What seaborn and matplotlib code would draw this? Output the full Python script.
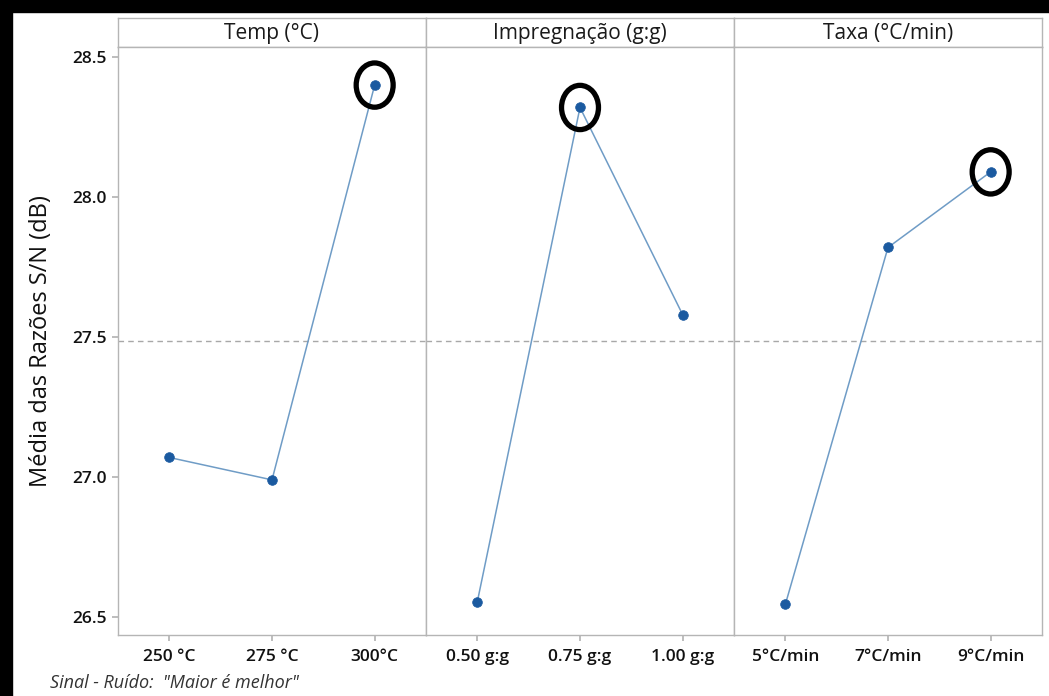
import matplotlib
matplotlib.use("Agg")
import matplotlib.pyplot as plt
import seaborn as sns
import pandas as pd
from matplotlib.patches import Ellipse, Rectangle

# ---- data ----
panel_titles = ["Temp (°C)", "Impregnação (g:g)", "Taxa (°C/min)"]
temp_labels = ["250 °C", "275 °C", "300°C"]
temp_values = [27.07, 26.99, 28.40]
impreg_labels = ["0.50 g:g", "0.75 g:g", "1.00 g:g"]
impreg_values = [26.555, 28.32, 27.58]
taxa_labels = ["5°C/min", "7°C/min", "9°C/min"]
taxa_values = [26.545, 27.82, 28.09]
mean_value = 27.486
y_ticks = [26.5, 27.0, 27.5, 28.0, 28.5]
y_label = "Média das Razões S/N (dB)"
footnote = 'Sinal - Ruído:  "Maior é melhor"'

sns.set_theme(style="white")
plt.rcParams["font.family"] = ["Open Sans", "DejaVu Sans"]

fig = plt.figure(figsize=(10.49, 6.96), dpi=100)
left, right = 118 / 1049, 1042 / 1049
top, bottom = 1 - 18 / 696, 1 - 635 / 696
gs = fig.add_gridspec(2, 3, left=left, right=right, top=top, bottom=bottom,
                      height_ratios=[29, 588], hspace=0, wspace=0)

line_color = "#6f9cc6"
marker_color = "#1b5aa0"
spine_color = "#b5b5b5"

panels = [(temp_labels, temp_values), (impreg_labels, impreg_values), (taxa_labels, taxa_values)]
axes = []
for i, ((labels, values), title) in enumerate(zip(panels, panel_titles)):
    sax = fig.add_subplot(gs[0, i])
    sax.set_xticks([]); sax.set_yticks([])
    for s in sax.spines.values():
        s.set_color(spine_color); s.set_linewidth(1)
    sax.set_facecolor("white")
    sax.text(0.5, 0.45, title, ha="center", va="center", fontsize=15,
             color="#1a1a1a", transform=sax.transAxes)

    ax = fig.add_subplot(gs[1, i], sharey=axes[0] if axes else None)
    df = pd.DataFrame({"x": labels, "y": values})
    sns.lineplot(data=df, x="x", y="y", sort=False, ax=ax, color=line_color, lw=1.1)
    sns.scatterplot(data=df, x="x", y="y", ax=ax, color=marker_color, s=48,
                    edgecolor=marker_color, zorder=5)
    ax.axhline(mean_value, color="#a8a8a8", ls=(0, (4, 3)), lw=1, zorder=0)
    ax.set_xlim(-0.5, 2.5)
    ax.set_ylim(26.436, 28.536)
    ax.set_xlabel(""); ax.set_ylabel("")
    for s in ax.spines.values():
        s.set_color(spine_color); s.set_linewidth(1)
    ax.tick_params(axis="x", length=4, color=spine_color, labelsize=12.5,
                   labelcolor="#111111", pad=6, bottom=True)
    for t in ax.get_xticklabels():
        t.set_fontweight("semibold")
    # highlight the maximum
    imax = values.index(max(values))
    ax.add_patch(Ellipse((imax, values[imax]), 0.36, 0.158, fill=False,
                         ec="black", lw=3.8, zorder=6))
    if i == 0:
        ax.set_yticks(y_ticks)
        ax.set_yticklabels([f"{v:.1f}" for v in y_ticks])
        ax.tick_params(axis="y", length=4, color=spine_color, labelsize=12.5,
                       labelcolor="#111111", left=True, pad=4)
        for t in ax.get_yticklabels():
            t.set_fontweight("semibold")
        ax.set_ylabel(y_label, fontsize=17, color="#111111", labelpad=14)
    else:
        ax.tick_params(axis="y", left=False, labelleft=False)
    axes.append(ax)

fig.text(50 / 1049, 1 - 683 / 696, footnote, fontsize=13, style="italic",
         color="#333333", ha="left", va="center")

# black border bands
fig.patches.append(Rectangle((0, 1 - 12 / 696), 1, 12 / 696, transform=fig.transFigure,
                             color="black", zorder=10))
fig.patches.append(Rectangle((0, 0), 12 / 1049, 1, transform=fig.transFigure,
                             color="black", zorder=10))

fig.savefig("out.png", dpi=100)
